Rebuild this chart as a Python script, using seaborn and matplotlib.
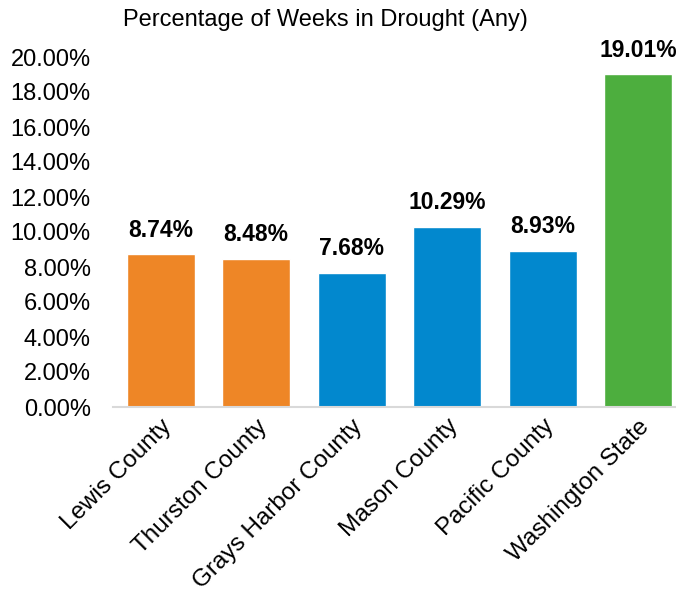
import pandas as pd
import seaborn as sns
import matplotlib.pyplot as plt
from matplotlib.ticker import FuncFormatter

# Datos del gráfico
regions = ["Lewis County", "Thurston County", "Grays Harbor County",
           "Mason County", "Pacific County", "Washington State"]
pct_weeks = [8.74, 8.48, 7.68, 10.29, 8.93, 19.01]
bar_colors = ["#EE8626", "#EE8626", "#0288CE", "#0288CE", "#0288CE", "#4DAE3E"]

df = pd.DataFrame({"region": regions, "pct": pct_weeks})

sns.set_style("white")
plt.rcParams["font.family"] = ["Liberation Sans", "DejaVu Sans"]
plt.rcParams["text.color"] = "black"
plt.rcParams["xtick.color"] = "black"
plt.rcParams["ytick.color"] = "black"

fig = plt.figure(figsize=(6.76, 5.92), dpi=100)
ax = fig.add_axes([113 / 676, 1 - 407 / 592, 573 / 676, 350 / 592])

sns.barplot(data=df, x="region", y="pct", hue="region", palette=bar_colors,
            width=0.71, legend=False, ax=ax, saturation=1)

for cont in ax.containers:
    ax.bar_label(cont, fmt="%.2f%%", padding=9, fontsize=16.5, fontweight="bold")

ax.set_ylim(0, 20)
ax.set_yticks(range(0, 21, 2))
ax.yaxis.set_major_formatter(FuncFormatter(lambda v, _: f"{v:.2f}%"))
ax.set_xlim(-0.5, 5.5)
ax.set_xlabel("")
ax.set_ylabel("")
fig.text(325 / 676, 1 - 20 / 592, "Percentage of Weeks in Drought (Any)",
         fontsize=17, ha="center", va="center")

ax.tick_params(axis="y", length=0, pad=16, labelsize=17)
ax.tick_params(axis="x", length=0, pad=6, labelsize=17.5)
plt.setp(ax.get_xticklabels(), rotation=45, ha="right", rotation_mode="anchor")

sns.despine(ax=ax, left=True)
ax.spines["bottom"].set_color("#D9D9D9")
ax.spines["bottom"].set_linewidth(1.5)

fig.savefig("out.png", dpi=100)
